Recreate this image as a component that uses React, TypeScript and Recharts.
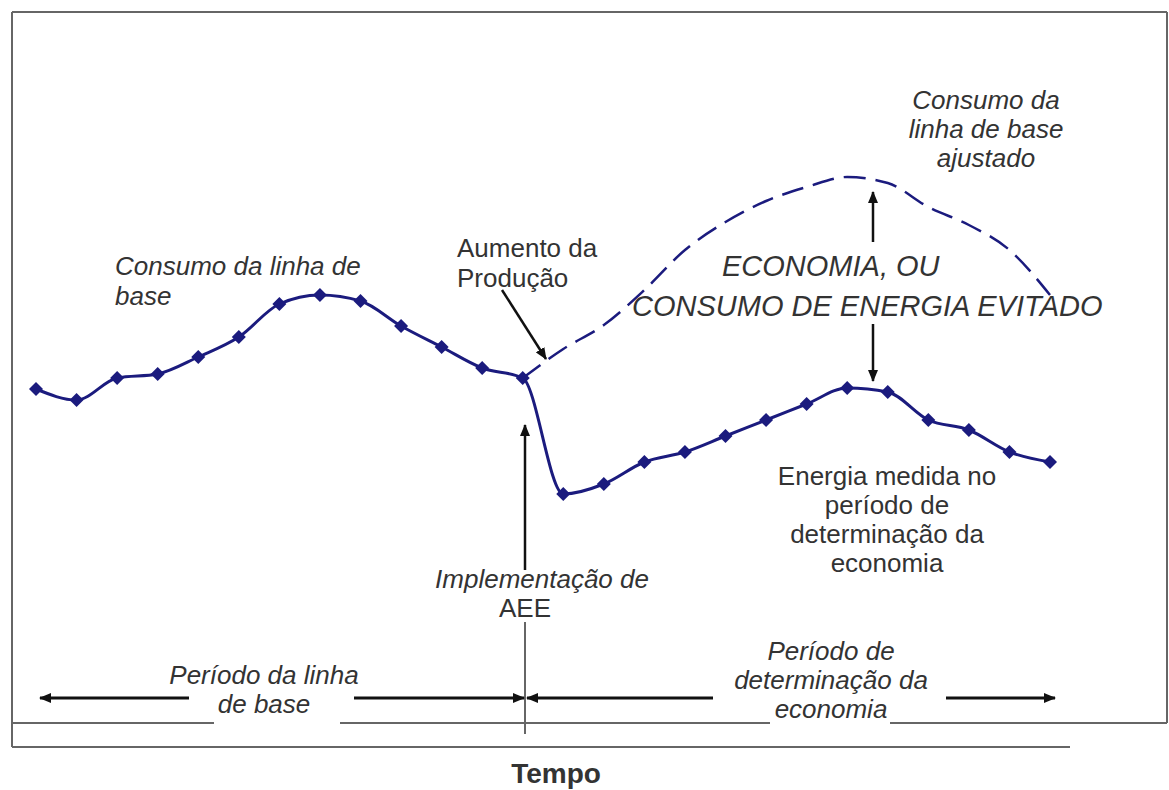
import React from 'react';
import { LineChart, Line, XAxis, YAxis, Customized } from 'recharts';

// Time steps (no axis labels in the original; 26 periods)
const periodos: number[] = [0, 1, 2, 3, 4, 5, 6, 7, 8, 9, 10, 11, 12, 13, 14, 15, 16, 17, 18, 19, 20, 21, 22, 23, 24, 25];

// Measured consumption (baseline period, then after the AEE implementation)
const consumoMedido: number[] = [
  42.2, 40.0, 44.4, 45.2, 48.6, 52.6, 59.2, 61.0, 59.8, 54.8, 50.6, 46.4, 44.4,
  21.2, 23.2, 27.6, 29.6, 32.8, 36.0, 39.2, 42.4, 41.6, 36.0, 34.0, 29.6, 27.6,
];

// Adjusted baseline consumption (dashed), starts at the implementation point
const linhaBaseAjustada: (number | null)[] = [
  null, null, null, null, null, null, null, null, null, null, null, null, 44.4,
  50.2, 55.0, 62.0, 70.0, 75.6, 79.8, 82.6, 84.6, 83.4, 78.6, 75.0, 70.0, 61.0,
];

const data = periodos.map((t, i) => ({
  t,
  medido: consumoMedido[i],
  ajustado: linhaBaseAjustada[i],
}));

const NAVY = '#1b1b7e';
const TEXT = '#333333';
const FONT = '"Liberation Sans", Arial, sans-serif';

const Diamond = (props: any) => {
  const { cx, cy, index } = props;
  if (cx == null || cy == null) return <g key={`e${index}`} />;
  const r = 7;
  return (
    <path
      key={`d${index}`}
      d={`M${cx},${cy - r}L${cx + r},${cy}L${cx},${cy + r}L${cx - r},${cy}Z`}
      fill={NAVY}
    />
  );
};

const T = (p: { x: number; y: number; anchor?: 'start' | 'middle' | 'end'; italic?: boolean; size?: number; bold?: boolean; children: React.ReactNode }) => (
  <text
    x={p.x}
    y={p.y}
    textAnchor={p.anchor || 'middle'}
    fontFamily={FONT}
    fontSize={p.size || 26}
    fontStyle={p.italic ? 'italic' : 'normal'}
    fontWeight={p.bold ? 'bold' : 'normal'}
    fill={TEXT}
  >
    {p.children}
  </text>
);

const Annotations = () => {
  const frame = '#666666';
  return (
    <g>
      <defs>
        <marker id="ah" viewBox="0 0 12 10" refX="11" refY="5" markerWidth="12" markerHeight="10" markerUnits="userSpaceOnUse" orient="auto">
          <path d="M0,0L12,5L0,10Z" fill="#111" />
        </marker>
      </defs>
      {/* frame */}
      <line x1={12} y1={12} x2={1167} y2={12} stroke={frame} strokeWidth={2} />
      <line x1={12} y1={12} x2={12} y2={747} stroke={frame} strokeWidth={2} />
      <line x1={1167} y1={12} x2={1167} y2={723} stroke={frame} strokeWidth={2} />
      <line x1={12} y1={723} x2={214} y2={723} stroke={frame} strokeWidth={2} />
      <line x1={340} y1={723} x2={770} y2={723} stroke={frame} strokeWidth={2} />
      <line x1={890} y1={723} x2={1167} y2={723} stroke={frame} strokeWidth={2} />
      <line x1={12} y1={747} x2={1070} y2={747} stroke={frame} strokeWidth={2} />
      <line x1={525} y1={622} x2={525} y2={734} stroke={frame} strokeWidth={2} />

      {/* period arrows */}
      <line x1={189} y1={698} x2={40} y2={698} stroke="#111" strokeWidth={3} markerEnd="url(#ah)" />
      <line x1={354} y1={698} x2={524} y2={698} stroke="#111" strokeWidth={3} markerEnd="url(#ah)" />
      <line x1={713} y1={698} x2={527} y2={698} stroke="#111" strokeWidth={3} markerEnd="url(#ah)" />
      <line x1={946} y1={698} x2={1055} y2={698} stroke="#111" strokeWidth={3} markerEnd="url(#ah)" />

      {/* pointer arrows */}
      <line x1={502} y1={290} x2={546} y2={359} stroke="#111" strokeWidth={2.5} markerEnd="url(#ah)" />
      <line x1={525} y1={570} x2={525} y2={425} stroke="#111" strokeWidth={2.5} markerEnd="url(#ah)" />
      <line x1={873} y1={242} x2={873} y2={192} stroke="#111" strokeWidth={2.5} markerEnd="url(#ah)" />
      <line x1={873} y1={324} x2={873} y2={381} stroke="#111" strokeWidth={2.5} markerEnd="url(#ah)" />

      {/* texts */}
      <T x={115} y={275} anchor="start" italic>Consumo da linha de</T>
      <T x={115} y={305} anchor="start" italic>base</T>

      <T x={457} y={257} anchor="start">Aumento da</T>
      <T x={457} y={287} anchor="start">Produção</T>

      <T x={986} y={109} italic>Consumo da</T>
      <T x={986} y={138} italic>linha de base</T>
      <T x={986} y={167} italic>ajustado</T>

      <T x={722} y={276} anchor="start" italic size={29}>ECONOMIA, OU</T>
      <T x={632} y={316} anchor="start" italic size={29}>CONSUMO DE ENERGIA EVITADO</T>

      <T x={887} y={485}>Energia medida no</T>
      <T x={887} y={514}>período de</T>
      <T x={887} y={543}>determinação da</T>
      <T x={887} y={572}>economia</T>

      <T x={542} y={588} italic>Implementação de</T>
      <T x={525} y={617}>AEE</T>

      <T x={264} y={684} italic>Período da linha</T>
      <T x={264} y={713} italic>de base</T>

      <T x={831} y={660} italic>Período de</T>
      <T x={831} y={689} italic>determinação da</T>
      <T x={831} y={718} italic>economia</T>

      <T x={556} y={783} bold size={28}>Tempo</T>
    </g>
  );
};

export default function App() {
  return (
    <div style={{ position: 'absolute', left: 0, top: 0, width: 1169, height: 790, background: '#fff' }}>
      <LineChart
        width={1169}
        height={790}
        data={data}
        margin={{ top: 100, right: 119, bottom: 190, left: 36 }}
      >
        <XAxis dataKey="t" type="number" domain={[0, 25]} hide />
        <YAxis type="number" domain={[0, 100]} hide />
        <Line
          type="monotone"
          dataKey="ajustado"
          stroke={NAVY}
          strokeWidth={2.5}
          strokeDasharray="22 10"
          dot={false}
          connectNulls={false}
          isAnimationActive={false}
        />
        <Line
          type="monotone"
          dataKey="medido"
          stroke={NAVY}
          strokeWidth={3}
          dot={Diamond}
          isAnimationActive={false}
        />
        <Customized component={Annotations} />
      </LineChart>
    </div>
  );
}
